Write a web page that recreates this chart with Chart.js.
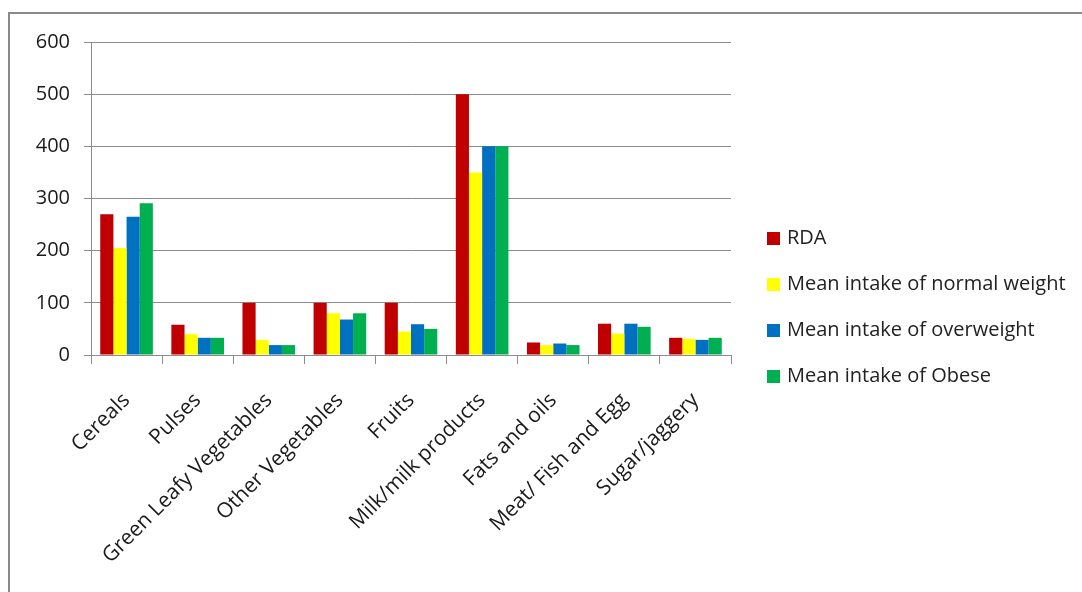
<!DOCTYPE html>
<html>
<head>
<meta charset="utf-8">
<script src="https://cdn.jsdelivr.net/npm/chart.js@4/dist/chart.umd.min.js"></script>
<style>
  body { margin: 0; background: #fff; overflow: hidden; }
  #frame {
    position: absolute; left: 8px; top: 12px; width: 1100px; height: 600px;
    border-left: 2px solid #8a8a8a; border-top: 2px solid #8a8a8a;
  }
  #wrap { position: absolute; left: 0; top: 0; width: 1082px; height: 592px; }
</style>
</head>
<body>
<div id="frame"></div>
<div id="wrap"><canvas id="canvas"></canvas></div>
<script>
// Food groups and intake per group (g/day)
var categories = ['Cereals', 'Pulses', 'Green Leafy Vegetables', 'Other Vegetables', 'Fruits',
  'Milk/milk products', 'Fats and oils', 'Meat/ Fish and Egg', 'Sugar/jaggery'];
var rda = [270, 58, 100, 100, 100, 500, 24, 60, 33];
var normalWeight = [205, 40, 29, 80, 45, 350, 19, 41, 31];
var overweight = [265, 33, 19, 68, 59, 400, 22, 60, 29];
var obese = [291, 33, 19, 80, 50, 400, 19, 54, 33];

var seriesNames = ['RDA', 'Mean intake of normal weight', 'Mean intake of overweight', 'Mean intake of Obese'];
var seriesColors = ['#C00000', '#FFFF00', '#0070C0', '#00B050'];
var yMax = 600;
var yStep = 100;

var fontFamily = '"Open Sans", Lato, sans-serif';
var gridColor = '#8c8c8c';

// Legend drawn to the right of the plot, one row per series
var sideLegend = {
  id: 'sideLegend',
  afterDraw: function (chart) {
    var ctx = chart.ctx;
    var x = chart.chartArea.right + 36;
    ctx.save();
    ctx.font = '20px ' + fontFamily;
    ctx.textBaseline = 'middle';
    chart.data.datasets.forEach(function (ds, i) {
      var y = 238 + i * 46;
      ctx.fillStyle = ds.backgroundColor;
      ctx.fillRect(x, y - 6, 13, 13);
      ctx.fillStyle = '#222';
      ctx.fillText(ds.label, x + 20, y);
    });
    ctx.restore();
  }
};

var seriesData = [rda, normalWeight, overweight, obese];
var datasets = seriesData.map(function (values, i) {
  return {
    label: seriesNames[i],
    data: values,
    backgroundColor: seriesColors[i],
    borderWidth: 0,
    categoryPercentage: 0.74,
    barPercentage: 1.0
  };
});

var ctx = document.getElementById('canvas').getContext('2d');
var chart = new Chart(ctx, {
  type: 'bar',
  data: { labels: categories, datasets: datasets },
  plugins: [sideLegend],
  options: {
    responsive: true,
    maintainAspectRatio: false,
    animation: false,
    layout: { padding: { top: 42, right: 351, bottom: 0, left: 0 } },
    plugins: {
      legend: { display: false },
      tooltip: { enabled: false }
    },
    scales: {
      x: {
        grid: { offset: true, drawOnChartArea: false, tickLength: 9, color: gridColor },
        border: { color: gridColor },
        ticks: {
          minRotation: 45,
          maxRotation: 45,
          padding: 24,
          color: '#1a1a1a',
          font: { family: fontFamily, size: 21 }
        },
        afterFit: function (scale) { scale.height = 592 - 355; }
      },
      y: {
        min: 0,
        max: yMax,
        grid: { color: gridColor, tickLength: 7 },
        border: { color: gridColor },
        ticks: {
          stepSize: yStep,
          padding: 14,
          color: '#1a1a1a',
          font: { family: fontFamily, size: 20 }
        },
        afterFit: function (scale) { scale.width = 91; }
      }
    }
  }
});
</script>
</body>
</html>
